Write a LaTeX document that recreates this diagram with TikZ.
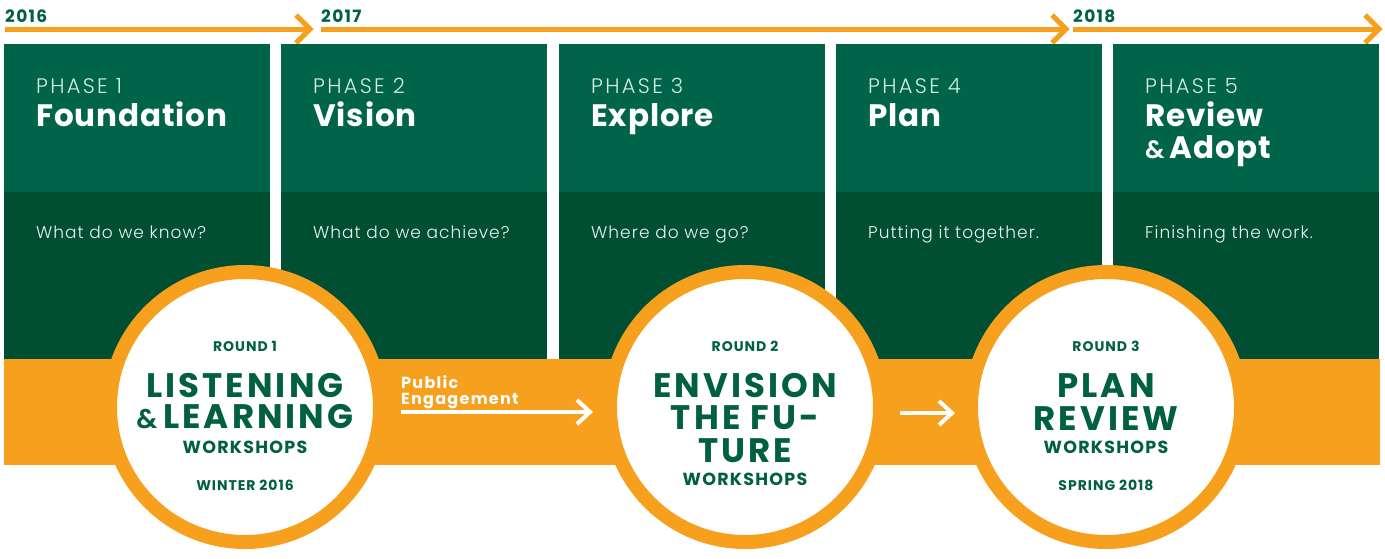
\documentclass[tikz,border=0pt]{standalone}
\usepackage{fontspec}
\setmainfont{Poppins}
\newfontfamily\lightfont{Poppins Light}
\definecolor{gtop}{HTML}{006548}
\definecolor{gbot}{HTML}{004F33}
\definecolor{org}{HTML}{F6A01E}
\definecolor{gtxt}{HTML}{00603F}
\definecolor{pale}{HTML}{D5EAE0}
\tikzset{
  topbox/.style={fill=gtop, draw=none, anchor=north west, inner sep=0, outer sep=0, minimum width=266pt, minimum height=148pt},
  botbox/.style={fill=gbot, draw=none, anchor=north west, inner sep=0, outer sep=0, minimum width=266pt, minimum height=167pt},
  phase/.style={anchor=base west, inner sep=0, text=pale, font={\lightfont\fontsize{21}{21}\selectfont\addfontfeature{LetterSpace=11}}},
  ptitle/.style={anchor=base west, inner sep=0, text=white, font={\fontsize{31}{31}\selectfont\bfseries\addfontfeature{LetterSpace=3}}},
  pq/.style={anchor=base west, inner sep=0, text=white!92!gtop, font={\lightfont\fontsize{17}{17}\selectfont\addfontfeature{LetterSpace=6}}},
  year/.style={anchor=base west, inner sep=0, text=gtxt, font={\fontsize{17}{17}\selectfont\bfseries\addfontfeature{LetterSpace=8}}},
  tline/.style={org, line width=5pt, miter limit=10},
  wline/.style={white, line width=4pt, miter limit=10},
  ring/.style={circle, fill=white, draw=org, line width=14pt, minimum size=270pt, inner sep=0, outer sep=0},
  rnd/.style={anchor=base, inner sep=0, text=gtxt, font={\fontsize{14}{14}\selectfont\bfseries\addfontfeature{LetterSpace=7}}},
  big/.style={anchor=base, inner sep=0, text=gtxt, font={\fontsize{34}{34}\selectfont\bfseries\addfontfeature{LetterSpace=9}}},
  ws/.style={anchor=base, inner sep=0, text=gtxt, font={\fontsize{17.5}{17.5}\selectfont\bfseries\addfontfeature{LetterSpace=7}}},
  pub/.style={anchor=base west, inner sep=0, text=white, font={\fontsize{16}{16}\selectfont\bfseries\addfontfeature{LetterSpace=8}}},
}
\begin{document}
\begin{tikzpicture}[x=1pt,y=-1pt]
\useasboundingbox (0,0) rectangle (1385,558);
% timeline
\coordinate (t1s) at (5,29);   \coordinate (t1e) at (310,29);
\coordinate (t2s) at (321,29); \coordinate (t2e) at (1066,29);
\coordinate (t3s) at (1073,29);\coordinate (t3e) at (1379,29);
\draw[tline] (t1s) -- (t1e);
\draw[tline] (296,15) -- (t1e) -- (296,43);
\draw[tline] (t2s) -- (t2e);
\draw[tline] (1052,15) -- (t2e) -- (1052,43);
\draw[tline] (t3s) -- (t3e);
\draw[tline] (1365,15) -- (t3e) -- (1365,43);
\node[year] (y16) at (5,22) {2016};
\node[year] (y17) at (321,22) {2017};
\node[year] (y18) at (1073,22) {2018};
% boxes
\foreach \i/\x in {1/4,2/281,3/559,4/836,5/1113}{
  \node[topbox] (top\i) at (\x,44) {};
  \node[botbox] (bot\i) at (\x,192) {};
}
% band
\node[fill=org, inner sep=0, outer sep=0, anchor=north west, minimum width=1376pt, minimum height=106pt] (band) at (4,359) {};
% texts in boxes
\node[phase] (ph1) at (36,93) {PHASE 1};
\node[ptitle] (ti1) at (36,126) {Foundation};
\node[pq] (q1) at (36,238) {What do we know?};
\node[phase] (ph2) at (313,93) {PHASE 2};
\node[ptitle] (ti2) at (313,126) {Vision};
\node[pq] (q2) at (313,238) {What do we achieve?};
\node[phase] (ph3) at (591,93) {PHASE 3};
\node[ptitle] (ti3) at (591,126) {Explore};
\node[pq] (q3) at (591,238) {Where do we go?};
\node[phase] (ph4) at (868,93) {PHASE 4};
\node[ptitle] (ti4) at (868,126) {Plan};
\node[pq] (q4) at (868,238) {Putting it together.};
\node[phase] (ph5) at (1145,93) {PHASE 5};
\node[ptitle] (ti5) at (1145,126) {Review};
\node[ptitle] (ti5b) at (1145,158) {{\lightfont\fontsize{25}{25}\selectfont\&}\,Adopt};
\node[pq] (q5) at (1145,238) {Finishing the work.};
% public engagement arrows
\node[pub] (pe1) at (401,388) {Public};
\node[pub] (pe2) at (401,404) {Engagement};
\coordinate (a1s) at (401,412); \coordinate (a1e) at (590,412);
\draw[wline] (a1s) -- (a1e);
\draw[wline] (577,400) -- (a1e) -- (577,424);
\coordinate (a2s) at (900,413); \coordinate (a2e) at (952,413);
\draw[wline] (a2s) -- (a2e);
\draw[wline] (939,401) -- (a2e) -- (939,425);
% circles
\node[ring] (c1) at (245,407) {};
\node[ring] (c2) at (745,407) {};
\node[ring] (c3) at (1106,407) {};
% circle 1
\node[rnd] (r1) at (245,351) {ROUND 1};
\node[big] (l1a) at (245,397) {LISTENING};
\node[big] (l1b) at (245,428) {{\lightfont\fontsize{27}{27}\selectfont\&}\,LEARNING};
\node[ws] (w1) at (245,453) {WORKSHOPS};
\node[rnd] (d1) at (245,490) {WINTER 2016};
% circle 2
\node[rnd] (r2) at (745,351) {ROUND 2};
\node[big] (l2a) at (745,397) {ENVISION};
\node[big] (l2b) at (745,429) {THE FU-};
\node[big] (l2c) at (745,462) {TURE};
\node[ws] (w2) at (745,485) {WORKSHOPS};
% circle 3
\node[rnd] (r3) at (1106,351) {ROUND 3};
\node[big] (l3a) at (1106,397) {PLAN};
\node[big] (l3b) at (1106,430) {REVIEW};
\node[ws] (w3) at (1106,453) {WORKSHOPS};
\node[rnd] (d3) at (1106,490) {SPRING 2018};
\end{tikzpicture}
\end{document}
